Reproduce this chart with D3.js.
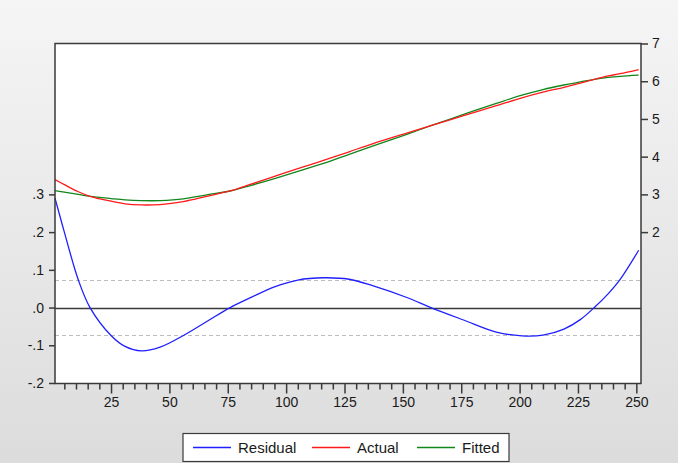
<!DOCTYPE html>
<html>
<head>
<meta charset="utf-8">
<script src="https://cdn.jsdelivr.net/npm/d3@7"></script>
<style>
  html, body { margin: 0; padding: 0; }
  body { width: 678px; height: 463px; overflow: hidden; }
  svg { display: block; }
  text { font-family: "Liberation Sans", Arial, sans-serif; fill: #1a1a1a; }
</style>
</head>
<body>
<svg id="chart" width="678" height="463"></svg>
<script>
// ---- data ----
const obsIndex = [1, 5, 11, 16, 25, 31, 38, 46, 56, 66, 76, 85, 95, 105, 116, 127, 137, 152, 162, 176, 190, 201, 210, 219, 226, 232, 238, 243, 251];
const residual = [0.290, 0.200, 0.073, 0.000, -0.074, -0.103, -0.115, -0.105, -0.074, -0.037, 0.000, 0.027, 0.055, 0.073, 0.079, 0.075, 0.058, 0.026, 0.000, -0.033, -0.065, -0.075, -0.073, -0.057, -0.032, 0.000, 0.037, 0.074, 0.152];
const actual   = [3.39, 3.26, 3.07, 2.95, 2.82, 2.75, 2.72, 2.73, 2.81, 2.95, 3.09, 3.27, 3.48, 3.68, 3.90, 4.13, 4.34, 4.63, 4.82, 5.09, 5.35, 5.56, 5.71, 5.84, 5.95, 6.05, 6.14, 6.20, 6.31];
const fitted   = [3.10, 3.06, 3.00, 2.95, 2.89, 2.855, 2.835, 2.835, 2.88, 2.99, 3.09, 3.24, 3.42, 3.61, 3.82, 4.06, 4.28, 4.60, 4.82, 5.12, 5.41, 5.63, 5.78, 5.90, 5.98, 6.05, 6.10, 6.13, 6.16];
const stdErr = 0.0735;
const leftTicks = [-0.2, -0.1, 0.0, 0.1, 0.2, 0.3];
const rightTicks = [2, 3, 4, 5, 6, 7];
const xMinorStep = 5;
const xMajorStep = 25;
const legendNames = ["Residual", "Actual", "Fitted"];
const seriesColors = ["#1f1fff", "#ff1a1a", "#11861a"];

// ---- layout ----
const svg = d3.select("#chart");
const defs = svg.append("defs");
const grad = defs.append("linearGradient").attr("id", "bg").attr("x1", 0).attr("y1", 0).attr("x2", 0).attr("y2", 1);
grad.append("stop").attr("offset", "0%").attr("stop-color", "#f5f5f5");
grad.append("stop").attr("offset", "100%").attr("stop-color", "#dcdcdc");
svg.append("rect").attr("width", 678).attr("height", 463).attr("fill", "url(#bg)");

const L = 55, R = 641, T = 43.5, B = 383.5;

const x = d3.scaleLinear().domain([1, 252]).range([L, R]);
const yL = d3.scaleLinear().domain([-0.2, 0.7]).range([B - 0.5, T]);
const yR = d3.scaleLinear().domain([-2, 7]).range([B - 0.5, T]);

svg.append("rect").attr("x", L).attr("y", T).attr("width", R - L).attr("height", B - T).attr("fill", "#ffffff");

// std error bands and zero line
svg.selectAll("line.band").data([stdErr, -stdErr]).enter().append("line")
  .attr("x1", L).attr("x2", R)
  .attr("y1", d => Math.round(yL(d)) + 0.5).attr("y2", d => Math.round(yL(d)) + 0.5)
  .attr("stroke", "#bdbdbd").attr("stroke-width", 1).attr("stroke-dasharray", "4,3");
svg.append("line").attr("x1", L).attr("x2", R)
  .attr("y1", Math.round(yL(0)) + 0.5).attr("y2", Math.round(yL(0)) + 0.5)
  .attr("stroke", "#3a3a3a").attr("stroke-width", 1.5);

// series
const curve = d3.curveCatmullRom.alpha(0.5);
const lineL = d3.line().x((d, i) => x(obsIndex[i])).y(d => yL(d)).curve(curve);
const lineR = d3.line().x((d, i) => x(obsIndex[i])).y(d => yR(d)).curve(curve);
svg.append("path").attr("d", lineR(fitted)).attr("fill", "none").attr("stroke", seriesColors[2]).attr("stroke-width", 1.3);
svg.append("path").attr("d", lineR(actual)).attr("fill", "none").attr("stroke", seriesColors[1]).attr("stroke-width", 1.3);
svg.append("path").attr("d", lineL(residual)).attr("fill", "none").attr("stroke", seriesColors[0]).attr("stroke-width", 1.3);

// frame
svg.append("rect").attr("x", L).attr("y", T).attr("width", R - L).attr("height", B - T)
  .attr("fill", "none").attr("stroke", "#3a3a3a").attr("stroke-width", 1.5);

// number formatting with an ASCII hyphen as minus sign
const loc = d3.formatLocale({decimal: ".", thousands: ",", grouping: [3], currency: ["", ""], minus: "-"});
const fmtL = d => loc.format(".1f")(d).replace(/^(-?)0\./, "$1.");

// left axis
const axL = svg.append("g").attr("transform", `translate(${L},0)`)
  .call(d3.axisLeft(yL).tickValues(leftTicks).tickSize(6).tickPadding(5).tickFormat(fmtL));
// right axis
const axR = svg.append("g").attr("transform", `translate(${R},0)`)
  .call(d3.axisRight(yR).tickValues(rightTicks).tickSize(7).tickPadding(4).tickFormat(loc.format("d")));
// bottom axis: minor and major
const xMinor = d3.range(xMinorStep, 251, xMinorStep).filter(v => v % xMajorStep !== 0);
const xMajor = d3.range(xMajorStep, 251, xMajorStep);
const axBm = svg.append("g").attr("transform", `translate(0,${B})`)
  .call(d3.axisBottom(x).tickValues(xMinor).tickSize(6).tickFormat(""));
const axB = svg.append("g").attr("transform", `translate(0,${B})`)
  .call(d3.axisBottom(x).tickValues(xMajor).tickSize(10).tickPadding(4).tickFormat(loc.format("d")));

[axL, axR, axBm, axB].forEach(g => {
  g.select(".domain").remove();
  g.selectAll(".tick line").attr("stroke", "#3a3a3a").attr("stroke-width", 1.5);
  g.selectAll(".tick text").attr("font-size", "14px").attr("fill", "#1a1a1a")
    .attr("font-family", "'Liberation Sans', Arial, sans-serif");
});

// legend
const lg = svg.append("g");
lg.append("rect").attr("x", 183).attr("y", 433.5).attr("width", 326).attr("height", 28)
  .attr("fill", "#ffffff").attr("stroke", "#3a3a3a").attr("stroke-width", 1.2);
const lgX = [193, 312, 417];
legendNames.forEach((name, i) => {
  lg.append("line").attr("x1", lgX[i]).attr("x2", lgX[i] + 38).attr("y1", 447.5).attr("y2", 447.5)
    .attr("stroke", seriesColors[i]).attr("stroke-width", 1.3);
  lg.append("text").attr("x", lgX[i] + 45).attr("y", 452.5).attr("font-size", "15px").text(name);
});
</script>
</body>
</html>
